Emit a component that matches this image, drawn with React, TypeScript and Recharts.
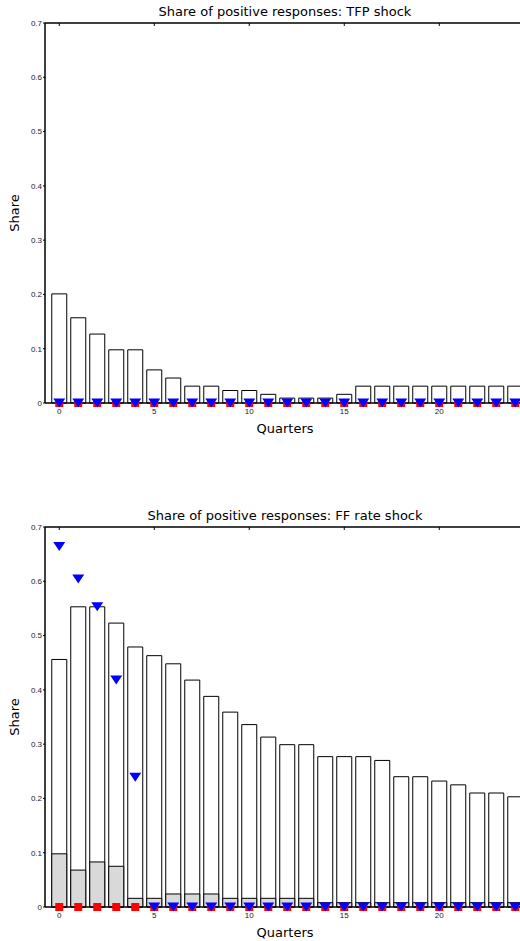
import React from "react";
import { Bar, ComposedChart, Label, Scatter, XAxis, YAxis } from "recharts";

const quarters = [0, 1, 2, 3, 4, 5, 6, 7, 8, 9, 10, 11, 12, 13, 14, 15, 16, 17, 18, 19, 20, 21, 22, 23, 24];
const yTicks = [0, 0.1, 0.2, 0.3, 0.4, 0.5, 0.6, 0.7];

// TFP shock
const tfpShare = [0.201, 0.157, 0.127, 0.098, 0.098, 0.061, 0.046, 0.031, 0.031, 0.023, 0.023, 0.016, 0.009, 0.009, 0.009, 0.016, 0.031, 0.031, 0.031, 0.031, 0.031, 0.031, 0.031, 0.031, 0.031];
const tfpRed = [0, 0, 0, 0, 0, 0, 0, 0, 0, 0, 0, 0, 0, 0, 0, 0, 0, 0, 0, 0, 0, 0, 0, 0, 0];
const tfpBlue = [0, 0, 0, 0, 0, 0, 0, 0, 0, 0, 0, 0, 0, 0, 0, 0, 0, 0, 0, 0, 0, 0, 0, 0, 0];

// FF rate shock
const ffShare = [0.456, 0.553, 0.553, 0.523, 0.479, 0.463, 0.448, 0.418, 0.388, 0.359, 0.336, 0.313, 0.299, 0.299, 0.277, 0.277, 0.277, 0.27, 0.24, 0.24, 0.232, 0.225, 0.21, 0.21, 0.203];
const ffInner = [0.098, 0.068, 0.083, 0.075, 0.016, 0.016, 0.024, 0.024, 0.024, 0.016, 0.016, 0.016, 0.016, 0.016, 0.008, 0.008, 0.008, 0.008, 0.008, 0.008, 0.008, 0.008, 0.008, 0.008, 0.008];
const ffRed = [0, 0, 0, 0, 0, 0, 0, 0, 0, 0, 0, 0, 0, 0, 0, 0, 0, 0, 0, 0, 0, 0, 0, 0, 0];
const ffBlue = [0.664, 0.604, 0.553, 0.418, 0.239, 0, 0, 0, 0, 0, 0, 0, 0, 0, 0, 0, 0, 0, 0, 0, 0, 0, 0, 0, 0];

const tickFont = { fontSize: 8, fill: "#222", fontFamily: "Liberation Sans, Arial, sans-serif" };
const labelFont = { fontSize: 13, fill: "#000", fontFamily: "DejaVu Sans, sans-serif" };

const RedSquare = (p: any) => <rect x={p.cx - 4} y={p.cy - 4} width={8} height={8} fill="#ff0000" />;
const BlueTriangle = (p: any) => (
  <polygon
    points={`${p.cx - 6},${p.cy - 4.5} ${p.cx + 6},${p.cy - 4.5} ${p.cx},${p.cy + 4.5}`}
    fill="#0000ff"
  />
);

interface PanelProps {
  title: string;
  share: number[];
  inner?: number[];
  red: number[];
  blue: number[];
}

function Panel({ title, share, inner, red, blue }: PanelProps) {
  const data = quarters.map((q, i) => ({
    q,
    share: share[i],
    inner: inner ? inner[i] : undefined,
    red: red[i],
    blue: blue[i],
  }));

  return (
    <ComposedChart
      width={560}
      height={470}
      data={data}
      margin={{ top: 0, right: 35, bottom: 37, left: 0 }}
      barSize={15}
      barGap={-15}
    >
      <XAxis
        dataKey="q"
        type="category"
        interval={4}
        padding={{ left: 4.75, right: 0.25 }}
        height={30}
        tick={tickFont}
        tickLine={false}
        tickSize={0}
        tickMargin={5}
        axisLine={{ stroke: "#000", strokeWidth: 1.5 }}
      >
        <Label value="Quarters" position="insideBottom" offset={0} style={labelFont} />
      </XAxis>
      <XAxis
        xAxisId="top"
        dataKey="q"
        type="category"
        orientation="top"
        interval={4}
        padding={{ left: 4.75, right: 0.25 }}
        height={23}
        tickFormatter={() => ""}
        tickSize={-3}
        tickLine={{ stroke: "#000" }}
        axisLine={{ stroke: "#000", strokeWidth: 1.5 }}
      >
        <Label value={title} position="center" style={labelFont} />
      </XAxis>
      <YAxis
        type="number"
        domain={[0, 0.7]}
        ticks={yTicks}
        width={45}
        tick={tickFont}
        tickSize={2}
        tickMargin={1}
        tickFormatter={(v) => String(v)}
        tickLine={{ stroke: "#000" }}
        axisLine={{ stroke: "#000", strokeWidth: 1.5 }}
      >
        <Label
          value="Share"
          angle={-90}
          position="insideLeft"
          offset={14}
          style={{ ...labelFont, textAnchor: "middle" }}
        />
      </YAxis>
      <Bar dataKey="share" fill="#fff" stroke="#000" strokeWidth={1} isAnimationActive={false} />
      {inner && (
        <Bar dataKey="inner" fill="#d9d9d9" stroke="#000" strokeWidth={1} isAnimationActive={false} />
      )}
      <Scatter dataKey="red" shape={RedSquare} isAnimationActive={false} />
      <Scatter dataKey="blue" shape={BlueTriangle} isAnimationActive={false} />
    </ComposedChart>
  );
}

export default function App() {
  return (
    <div
      style={{
        position: "absolute",
        left: 0,
        top: 0,
        width: 520,
        height: 941,
        overflow: "hidden",
        background: "#fff",
      }}
    >
      <div style={{ position: "absolute", left: 0, top: 0 }}>
        <Panel title="Share of positive responses: TFP shock" share={tfpShare} red={tfpRed} blue={tfpBlue} />
      </div>
      <div style={{ position: "absolute", left: 0, top: 504 }}>
        <Panel
          title="Share of positive responses: FF rate shock"
          share={ffShare}
          inner={ffInner}
          red={ffRed}
          blue={ffBlue}
        />
      </div>
    </div>
  );
}
